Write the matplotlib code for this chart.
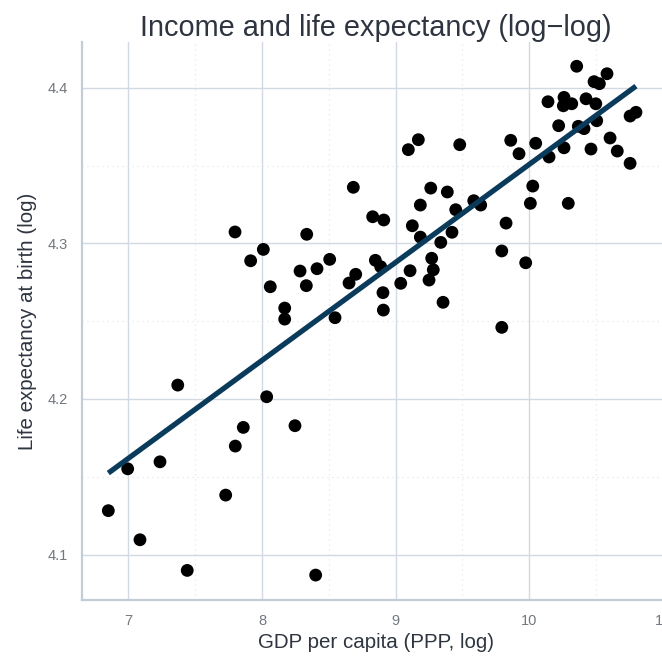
import matplotlib
matplotlib.use("Agg")
import matplotlib.pyplot as plt
import numpy as np
from matplotlib.ticker import MultipleLocator

# log GDP per capita (PPP) and log life expectancy at birth, one point per country
log_gdp = np.array([
    7.798, 8.684, 8.829, 8.912, 8.010, 7.915, 8.335, 8.507, 8.412, 8.285,
    8.062, 8.332, 8.849, 8.889, 8.702, 8.652, 8.906, 8.909, 8.170, 8.170,
    8.547, 9.096, 9.171, 9.481, 9.863, 9.925, 10.050, 10.150, 9.264, 9.388,
    9.186, 9.451, 9.586, 9.638, 10.028, 10.010, 10.294, 9.126, 9.186, 9.423,
    9.339, 9.828, 9.796, 9.975, 9.271, 9.283, 9.251, 9.109, 9.039, 9.356,
    9.796, 10.357, 10.584, 10.487, 10.527, 10.142, 10.262, 10.257, 10.320, 10.427,
    10.500, 10.757, 10.801, 10.222, 10.369, 10.412, 10.507, 10.607, 10.661, 10.464,
    10.262, 10.757, 7.369, 8.035, 7.860, 7.800, 8.247, 6.994, 7.236, 7.728,
    6.849, 7.086, 7.440, 8.402,
])
log_life = np.array([
    4.3073, 4.3360, 4.3171, 4.3150, 4.2961, 4.2888, 4.3058, 4.2897, 4.2837, 4.2822,
    4.2721, 4.2728, 4.2891, 4.2850, 4.2801, 4.2745, 4.2683, 4.2571, 4.2584, 4.2513,
    4.2522, 4.3602, 4.3666, 4.3634, 4.3662, 4.3576, 4.3643, 4.3555, 4.3355, 4.3330,
    4.3246, 4.3216, 4.3274, 4.3246, 4.3368, 4.3257, 4.3257, 4.3113, 4.3040, 4.3071,
    4.3006, 4.3130, 4.2951, 4.2875, 4.2904, 4.2830, 4.2764, 4.2824, 4.2743, 4.2621,
    4.2460, 4.4138, 4.4090, 4.4039, 4.4026, 4.3910, 4.3938, 4.3884, 4.3897, 4.3929,
    4.3897, 4.3818, 4.3842, 4.3756, 4.3752, 4.3737, 4.3788, 4.3677, 4.3593, 4.3606,
    4.3614, 4.3514, 4.2089, 4.2014, 4.1817, 4.1697, 4.1828, 4.1551, 4.1596, 4.1382,
    4.1282, 4.1095, 4.0898, 4.0868,
])

plt.rcParams['font.family'] = ['Liberation Sans', 'DejaVu Sans']

fig = plt.figure(figsize=(6.62, 6.56), dpi=100)
ax = fig.add_axes([0.1239, 0.0854, 0.887, 0.8506])

ax.scatter(log_gdp, log_life, s=85, color='black', edgecolors='none', zorder=3)

# OLS fit over the observed income range
slope, intercept = np.polyfit(log_gdp, log_life, 1)
x_fit = np.array([log_gdp.min(), log_gdp.max()])
ax.plot(x_fit, intercept + slope * x_fit, color='#0b3b5b', linewidth=3.8,
        solid_capstyle='butt', zorder=4)

ax.set_xlim(6.652, 11.05)
ax.set_ylim(4.0708, 4.4294)

ax.xaxis.set_major_locator(MultipleLocator(1))
ax.xaxis.set_minor_locator(MultipleLocator(0.5))
ax.yaxis.set_major_locator(MultipleLocator(0.1))
ax.yaxis.set_minor_locator(MultipleLocator(0.05))
ax.set_yticks([4.1, 4.2, 4.3, 4.4])
ax.set_yticklabels(['4.1', '4.2', '4.3', '4.4'])

ax.grid(True, which='major', color='#d3d9e2', linewidth=1.0)
ax.grid(True, which='minor', color='#e3e7ec', linewidth=0.9, linestyle=(0, (1, 3)))
ax.set_axisbelow(True)

ax.tick_params(which='both', length=0, labelsize=10.5, labelcolor='#73777e', pad=10)

for loc, spine in ax.spines.items():
    if loc in ['top', 'right']:
        spine.set_visible(False)
    else:
        spine.set_color('#c4ccd6')
        spine.set_linewidth(1.6)

ax.set_title('Income and life expectancy (log\u2212log)', fontsize=20.8,
             color='#2e3440', pad=4)
ax.set_xlabel('GDP per capita (PPP, log)', fontsize=14.8, color='#2e3440', labelpad=4)
ax.set_ylabel('Life expectancy at birth (log)', fontsize=14.8, color='#2e3440', labelpad=8)

fig.savefig('out.png', dpi=100)
